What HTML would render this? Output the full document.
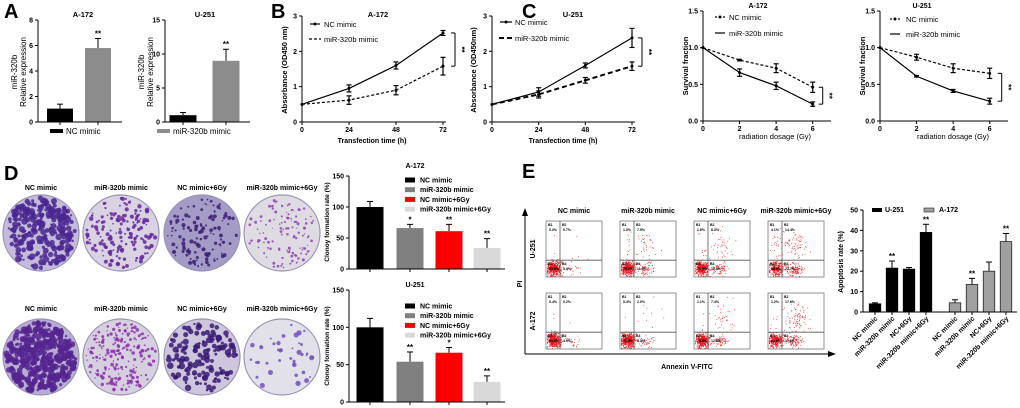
<!DOCTYPE html>
<html><head><meta charset="utf-8"><style>
html,body{margin:0;padding:0;background:#fff;}
svg{display:block;font-family:"Liberation Sans",Arial,sans-serif;}
</style></head><body>
<svg id="fig" width="1020" height="408" viewBox="0 0 1020 408" xmlns="http://www.w3.org/2000/svg"></svg>
<script>
// ---------- data ----------
const aCats = ['NC mimic', 'miR-320b mimic'];
const aA172Vals = [1.05, 5.8];
const aA172Errs = [0.35, 0.75];
const aU251Vals = [1.0, 9.0];
const aU251Errs = [0.4, 1.7];
const aTicksA172 = [0, 2, 4, 6, 8];
const aTicksU251 = [0, 5, 10, 15];

const bTimes = [0, 24, 48, 72];
const bTicks = [0, 1, 2, 3];
const bA172NC = [0.5, 0.95, 1.6, 2.52];
const bA172NCErr = [0, 0.1, 0.1, 0.07];
const bA172Mi = [0.5, 0.62, 0.9, 1.58];
const bA172MiErr = [0, 0.12, 0.13, 0.25];
const bU251NC = [0.5, 0.85, 1.6, 2.38];
const bU251NCErr = [0, 0.12, 0.07, 0.27];
const bU251Mi = [0.5, 0.78, 1.18, 1.58];
const bU251MiErr = [0, 0.1, 0.08, 0.12];

const cDoses = [0, 2, 4, 6];
const cTicks = [0, 0.5, 1.0, 1.5];
const cTickLabels = ['0.0', '0.5', '1.0', '1.5'];
const cXTicks = [0, 2, 4, 6];
const cA172NC = [1.0, 0.83, 0.72, 0.46];
const cA172NCErr = [0, 0.01, 0.06, 0.07];
const cA172Mi = [1.0, 0.66, 0.48, 0.23];
const cA172MiErr = [0, 0.05, 0.05, 0.03];
const cU251NC = [1.0, 0.87, 0.72, 0.65];
const cU251NCErr = [0, 0.04, 0.06, 0.07];
const cU251Mi = [1.0, 0.61, 0.41, 0.27];
const cU251MiErr = [0, 0.01, 0.02, 0.04];

const dCats = ['NC mimic', 'miR-320b mimic', 'NC mimic+6Gy', 'miR-320b mimic+6Gy'];
const dTicks = [0, 50, 100, 150];
const dA172Vals = [100, 66, 61, 34];
const dA172Errs = [9, 6, 11, 15];
const dA172Stars = ['', '*', '**', '**'];
const dU251Vals = [100, 54, 66, 27];
const dU251Errs = [12, 13, 7, 8];
const dU251Stars = ['', '**', '*', '**'];

const eCats = ['NC mimic', 'miR-320b mimic', 'NC+6Gy', 'miR-320b mimic+6Gy', 'NC mimic', 'miR-320b mimic', 'NC+6Gy', 'miR-320b mimic+6Gy'];
const eVals = [4, 21.5, 21, 39, 4.5, 13.5, 20, 34.5];
const eErrs = [0.5, 3.5, 0.8, 4, 1.5, 3, 4.5, 4];
const eStars = ['', '**', '', '**', '', '**', '', '**'];
const eTicks = [0, 10, 20, 30, 40, 50];

const flowCols = ['NC mimic', 'miR-320b mimic', 'NC mimic+6Gy', 'miR-320b mimic+6Gy'];
const flowU251 = [[0.3, 0.7, 95.6, 3.4], [1.9, 7.5, 79.0, 11.6], [1.8, 8.3, 78.9, 12.9], [4.1, 14.4, 58.8, 22.7]];
const flowA172 = [[0.4, 0.2, 94.5, 4.9], [0.4, 2.0, 89.3, 8.3], [1.1, 7.4, 78.8, 12.6], [1.2, 17.6, 63.6, 17.6]];

// ---------- helpers ----------
const NS = 'http://www.w3.org/2000/svg';
const svg = document.getElementById('fig');
function mk(tag, a, name, parent) {
  const e = document.createElementNS(NS, tag);
  for (const k in a) e.setAttribute(k, a[k]);
  
  
  (parent || svg).appendChild(e);
  return e;
}
function tx(x, y, s, size, name, o) {
  o = o || {};
  const a = {x: x, y: y, 'font-size': size, 'font-weight': o.w || 'bold', 'text-anchor': o.a || 'middle', fill: o.f || '#000'};
  if (o.r) a.transform = 'rotate(' + o.r + ' ' + x + ' ' + y + ')';
  const e = mk('text', a, name, o.p);
  e.textContent = s;
  return e;
}
function ln(x1, y1, x2, y2, name, sw, dash, col, p) {
  const a = {x1: x1, y1: y1, x2: x2, y2: y2, stroke: col || '#000', 'stroke-width': sw || 1};
  if (dash) a['stroke-dasharray'] = dash;
  return mk('line', a, name, p);
}
function yAxis(x, y0, y1, max, ticks, labels, name) {
  ln(x, y0, x, y1, name + '-y-axis', 1);
  ticks.forEach((t, i) => {
    const y = y0 - t / max * (y0 - y1);
    ln(x - 3, y, x, y, name + '-y-tick', 1);
    tx(x - 5, y + 2.5, labels ? labels[i] : String(t), 7, name + '-y-tick-label', {a: 'end'});
  });
}
function errBar(x, yTop, yMid, name, cap) {
  cap = cap || 3;
  ln(x, yMid, x, yTop, name + '-error', 1);
  ln(x - cap, yTop, x + cap, yTop, name + '-error-cap', 1);
}
function bars(cfg) {
  const s = v => cfg.y0 - v / cfg.max * (cfg.y0 - cfg.y1);
  cfg.vals.forEach((v, i) => {
    const cx = cfg.centers[i], w = cfg.width;
    errBar(cx, s(v + cfg.errs[i]), s(v), cfg.name);
    mk('rect', {x: cx - w / 2, y: s(v), width: w, height: cfg.y0 - s(v), fill: cfg.fills[i], stroke: cfg.strokes ? cfg.strokes[i] : 'none', 'stroke-width': 0.8}, cfg.name + '-bar');
    if (cfg.stars && cfg.stars[i]) tx(cx, s(v + cfg.errs[i]) - 2, cfg.stars[i], 8, cfg.name + '-significance');
    ln(cx, cfg.y0, cx, cfg.y0 + 3, cfg.name + '-x-tick', 1);
  });
  ln(cfg.x, cfg.y0, cfg.xEnd, cfg.y0, cfg.name + '-x-axis', 1);
  yAxis(cfg.x, cfg.y0, cfg.y1, cfg.max, cfg.ticks, cfg.tickLabels, cfg.name);
}
function lines(cfg) {
  const sx = v => cfg.x0 + (v - cfg.xs[0]) / cfg.xMax * (cfg.x1 - cfg.x0);
  const sy = v => cfg.y0 - v / cfg.max * (cfg.y0 - cfg.y1);
  cfg.series.forEach(se => {
    const pts = cfg.xs.map((x, i) => sx(x) + ',' + sy(se.vals[i])).join(' ');
    const a = {points: pts, fill: 'none', stroke: '#000', 'stroke-width': se.sw || 1};
    if (se.dash) a['stroke-dasharray'] = se.dash;
    mk('polyline', a, cfg.name + '-' + se.key + '-line');
    cfg.xs.forEach((x, i) => {
      const e = se.errs[i];
      if (e > 0) {
        ln(sx(x), sy(se.vals[i] - e), sx(x), sy(se.vals[i] + e), cfg.name + '-error', 1.2);
        ln(sx(x) - 2.5, sy(se.vals[i] + e), sx(x) + 2.5, sy(se.vals[i] + e), cfg.name + '-error-cap', 1.2);
        ln(sx(x) - 2.5, sy(se.vals[i] - e), sx(x) + 2.5, sy(se.vals[i] - e), cfg.name + '-error-cap', 1.2);
      }
      mk('circle', {cx: sx(x), cy: sy(se.vals[i]), r: 1.5, fill: '#000'}, cfg.name + '-point');
    });
  });
  ln(cfg.x0, cfg.y0, cfg.xAxisEnd, cfg.y0, cfg.name + '-x-axis', 1);
  cfg.xTicks.forEach(t => {
    ln(sx(t), cfg.y0, sx(t), cfg.y0 + 3, cfg.name + '-x-tick', 1);
    tx(sx(t), cfg.y0 + 10, String(t), 7, cfg.name + '-x-tick-label');
  });
  yAxis(cfg.x0, cfg.y0, cfg.y1, cfg.max, cfg.ticks, cfg.tickLabels, cfg.name);
  const li = cfg.xs.length - 1;
  const ya = sy(cfg.series[0].vals[li]), yb = sy(cfg.series[1].vals[li]);
  const bx = sx(cfg.xs[li]) + cfg.bOff;
  ln(bx - 4, ya, bx, ya, cfg.name + '-bracket', 1);
  ln(bx, ya, bx, yb, cfg.name + '-bracket', 1);
  ln(bx - 4, yb, bx, yb, cfg.name + '-bracket', 1);
  tx(bx + 4, (ya + yb) / 2, '**', 8, cfg.name + '-significance', {r: 90});
}
let seed = 12345;
function rnd() { seed |= 0; seed = seed + 0x6D2B79F5 | 0; let t = Math.imul(seed ^ seed >>> 15, 1 | seed); t = t + Math.imul(t ^ t >>> 7, 61 | t) ^ t; return ((t ^ t >>> 14) >>> 0) / 4294967296; }
function gauss() { return (rnd() + rnd() + rnd() - 1.5) / 0.5; }

// ---------- panel letters ----------
tx(4, 18, 'A', 20, 'panel-label-a', {a: 'start'});
tx(271, 18, 'B', 20, 'panel-label-b', {a: 'start'});
tx(522, 18, 'C', 20, 'panel-label-c', {a: 'start'});
tx(4, 180, 'D', 20, 'panel-label-d', {a: 'start'});
tx(522, 178, 'E', 20, 'panel-label-e', {a: 'start'});

// ---------- Panel A ----------
tx(83, 17, 'A-172', 7.5, 'a-a172-title');
bars({name: 'a-a172', x: 38, xEnd: 122, y0: 122, y1: 20, max: 8, ticks: aTicksA172, centers: [60, 98], width: 26, vals: aA172Vals, errs: aA172Errs, fills: ['#000', '#8c8c8c'], stars: ['', '**']});
tx(17, 72, 'miR-320b', 8, 'a-a172-y-title', {r: -90, w: 'normal'});
tx(26, 72, 'Relative expression', 8, 'a-a172-y-title', {r: -90, w: 'normal'});
tx(205, 17, 'U-251', 7.5, 'a-u251-title');
bars({name: 'a-u251', x: 165, xEnd: 250, y0: 122, y1: 20, max: 15, ticks: aTicksU251, centers: [183, 226], width: 27, vals: aU251Vals, errs: aU251Errs, fills: ['#000', '#8c8c8c'], stars: ['', '**']});
tx(144, 72, 'miR-320b', 8, 'a-u251-y-title', {r: -90, w: 'normal'});
tx(153, 72, 'Relative expression', 8, 'a-u251-y-title', {r: -90, w: 'normal'});
mk('rect', {x: 50, y: 129, width: 13, height: 4, fill: '#000'}, 'a-legend-swatch-nc');
tx(66, 134, aCats[0], 8, 'a-legend-label-nc', {a: 'start', w: 'normal'});
mk('rect', {x: 157, y: 129, width: 13, height: 4, fill: '#8c8c8c'}, 'a-legend-swatch-mir');
tx(173, 134, aCats[1], 8, 'a-legend-label-mir', {a: 'start', w: 'normal'});

// ---------- Panel B ----------
tx(378, 17, 'A-172', 7.5, 'b-a172-title');
lines({name: 'b-a172', xs: bTimes, xMax: 72, x0: 302, x1: 443, xAxisEnd: 446, y0: 122, y1: 16, max: 3, ticks: bTicks, xTicks: bTimes, bOff: 12,
  series: [{key: 'nc', vals: bA172NC, errs: bA172NCErr, sw: 1.2}, {key: 'mir', vals: bA172Mi, errs: bA172MiErr, dash: '3,2', sw: 1.2}]});
tx(372, 143, 'Transfection time (h)', 7, 'b-a172-x-title');
tx(287, 70, 'Absorbance (OD450 nm)', 7.5, 'b-a172-y-title', {r: -90});
ln(310, 24, 320, 24, 'b-a172-legend-line-nc', 1.2); mk('circle', {cx: 315, cy: 24, r: 1.5, fill: '#000'}, 'b-a172-legend-marker');
tx(324, 27, 'NC mimic', 7.5, 'b-a172-legend-label-nc', {a: 'start', w: 'normal'});
ln(309, 39, 321, 39, 'b-a172-legend-line-mir', 1.2, '3,2');
tx(324, 42, 'miR-320b mimic', 7.5, 'b-a172-legend-label-mir', {a: 'start', w: 'normal'});

tx(573, 17, 'U-251', 7.5, 'b-u251-title');
lines({name: 'b-u251', xs: bTimes, xMax: 72, x0: 492, x1: 632, xAxisEnd: 635, y0: 122, y1: 16, max: 3, ticks: bTicks, xTicks: bTimes, bOff: 10,
  series: [{key: 'nc', vals: bU251NC, errs: bU251NCErr, sw: 1.2}, {key: 'mir', vals: bU251Mi, errs: bU251MiErr, dash: '5,3', sw: 2}]});
tx(563, 143, 'Transfection time (h)', 7, 'b-u251-x-title');
tx(476, 70, 'Absorbance (OD450nm)', 7.5, 'b-u251-y-title', {r: -90});
ln(500, 22, 512, 22, 'b-u251-legend-line-nc', 1.2); mk('circle', {cx: 506, cy: 22, r: 1.5, fill: '#000'}, 'b-u251-legend-marker');
tx(515, 25, 'NC mimic', 7.5, 'b-u251-legend-label-nc', {a: 'start', w: 'normal'});
ln(499, 38, 513, 38, 'b-u251-legend-line-mir', 2, '5,3');
tx(515, 41, 'miR-320b mimic', 7.5, 'b-u251-legend-label-mir', {a: 'start', w: 'normal'});

// ---------- Panel C ----------
tx(758, 8, 'A-172', 7, 'c-a172-title');
lines({name: 'c-a172', xs: cDoses, xMax: 7, x0: 703, x1: 831, xAxisEnd: 831, y0: 121, y1: 11, max: 1.5, ticks: cTicks, tickLabels: cTickLabels, xTicks: cXTicks, bOff: 10,
  series: [{key: 'nc', vals: cA172NC, errs: cA172NCErr, dash: '3,2', sw: 1.2}, {key: 'mir', vals: cA172Mi, errs: cA172MiErr, sw: 1.2}]});
tx(775, 139, 'radiation dosage (Gy)', 7.5, 'c-a172-x-title', {w: 'normal'});
tx(688, 66, 'Survival fraction', 7.5, 'c-a172-y-title', {r: -90});
ln(715, 17, 725, 17, 'c-a172-legend-line-nc', 1.2, '2,2'); mk('circle', {cx: 720, cy: 17, r: 1.5, fill: '#000'}, 'c-a172-legend-marker');
tx(729, 20, 'NC mimic', 7.5, 'c-a172-legend-label-nc', {a: 'start', w: 'normal'});
ln(715, 33, 725, 33, 'c-a172-legend-line-mir', 1.2);
tx(729, 36, 'miR-320b mimic', 7.5, 'c-a172-legend-label-mir', {a: 'start', w: 'normal'});

tx(922, 8, 'U-251', 7, 'c-u251-title');
lines({name: 'c-u251', xs: cDoses, xMax: 7, x0: 880, x1: 1008, xAxisEnd: 1008, y0: 121, y1: 11, max: 1.5, ticks: cTicks, tickLabels: cTickLabels, xTicks: cXTicks, bOff: 12,
  series: [{key: 'nc', vals: cU251NC, errs: cU251NCErr, dash: '3,2', sw: 1.2}, {key: 'mir', vals: cU251Mi, errs: cU251MiErr, sw: 1.2}]});
tx(953, 139, 'radiation dosage (Gy)', 7.5, 'c-u251-x-title', {w: 'normal'});
tx(865, 66, 'Survival fraction', 7.5, 'c-u251-y-title', {r: -90});
ln(890, 19, 900, 19, 'c-u251-legend-line-nc', 1.2, '2,2'); mk('circle', {cx: 895, cy: 19, r: 1.5, fill: '#000'}, 'c-u251-legend-marker');
tx(906, 22, 'NC mimic', 7.5, 'c-u251-legend-label-nc', {a: 'start', w: 'normal'});
ln(890, 34, 900, 34, 'c-u251-legend-line-mir', 1.2);
tx(906, 37, 'miR-320b mimic', 7.5, 'c-u251-legend-label-mir', {a: 'start', w: 'normal'});

// ---------- Panel D dishes ----------
const dishStyles = [
  [{bg: '#c3bbd9', dot: '#4a2790', n: 260, r: 2.2}, {bg: '#d8d2e2', dot: '#66279a', n: 160, r: 1.5}, {bg: '#a49bc6', dot: '#3b1f72', n: 120, r: 1.4}, {bg: '#dedbe3', dot: '#9040b0', n: 120, r: 1.0}],
  [{bg: '#b8acd4', dot: '#55258f', n: 420, r: 2.2}, {bg: '#d6cfe0', dot: '#8a30a8', n: 220, r: 1.2}, {bg: '#cdc6dc', dot: '#3a1a74', n: 140, r: 2.2}, {bg: '#e2e0e8', dot: '#7050c0', n: 40, r: 1.8}]
];
const dishX = [41, 121, 202, 282], dishY = [233, 357];
const dishLabelY = [190, 311];
for (let r = 0; r < 2; r++) {
  for (let c = 0; c < 4; c++) {
    const st = dishStyles[r][c];
    tx(dishX[c], dishLabelY[r], dCats[c], 7, 'd-dish-label', {});
    const g = mk('g', {}, 'd-dish-' + (r ? 'u251' : 'a172') + '-' + (c + 1));
    mk('circle', {cx: dishX[c], cy: dishY[r], r: 38, fill: st.bg, stroke: '#9a92b0', 'stroke-width': 1.2}, 'd-dish-plate', g);
    for (let k = 0; k < st.n; k++) {
      const ang = rnd() * Math.PI * 2, rad = Math.sqrt(rnd()) * 35;
      mk('circle', {cx: dishX[c] + Math.cos(ang) * rad, cy: dishY[r] + Math.sin(ang) * rad, r: st.r * (0.5 + rnd()), fill: st.dot, opacity: 0.85}, 'd-colony', g);
    }
  }
}

// ---------- Panel D bars ----------
const dFills = ['#000', '#808080', '#ff0000', '#d9d9d9'];
tx(415, 168, 'A-172', 7, 'd-a172-title');
bars({name: 'd-a172', x: 349, xEnd: 505, y0: 269, y1: 176, max: 150, ticks: dTicks, centers: [370, 410, 449, 487], width: 27, vals: dA172Vals, errs: dA172Errs, fills: dFills, stars: dA172Stars});
tx(329, 222, 'Clonoy formation rate (%)', 6.5, 'd-a172-y-title', {r: -90});
tx(415, 287, 'U-251', 7, 'd-u251-title');
bars({name: 'd-u251', x: 349, xEnd: 505, y0: 402, y1: 290, max: 150, ticks: dTicks, centers: [370, 410, 449, 487], width: 27, vals: dU251Vals, errs: dU251Errs, fills: dFills, stars: dU251Stars});
tx(329, 346, 'Clonoy formation rate (%)', 6.5, 'd-u251-y-title', {r: -90});
[181, 307].forEach((ly, gi) => {
  dCats.forEach((c, i) => {
    mk('rect', {x: 405, y: ly + i * 9.7 - 3.5, width: 10, height: 5, fill: dFills[i]}, 'd-legend-swatch');
    tx(420, ly + i * 9.7 + 1.5, c, 7, 'd-legend-label', {a: 'start'});
  });
});

// ---------- Panel E flow plots ----------
const fx = [546, 620, 694, 768], fy = [221, 293], fw = 56, fh = 56;
flowCols.forEach((c, i) => tx(fx[i] + fw / 2, 213, c, 7, 'e-flow-column-label'));
tx(535, 249, 'U-251', 7, 'e-flow-row-label', {r: -90});
tx(535, 321, 'A-172', 7, 'e-flow-row-label', {r: -90});
[flowU251, flowA172].forEach((rowData, r) => {
  rowData.forEach((q, c) => {
    const x = fx[c], y = fy[r];
    const g = mk('g', {}, 'e-flow-plot');
    mk('rect', {x: x, y: y, width: fw, height: fh, fill: '#fff', stroke: '#777', 'stroke-width': 0.8}, 'e-flow-frame', g);
    const gx = x + fw * 0.25, gy = y + fh * 0.7;
    const N = 500;
    const cl = [[x + 8, y + 47, 3.5, 3.5, q[2]], [x + 26, y + 48, 4, 3, q[3]], [x + 28, y + 25, 6, 8, q[1]], [x + 8, y + 25, 3, 8, q[0]]];
    cl.forEach(k => {
      const n = Math.round(N * k[4] / 100);
      for (let j = 0; j < n; j++) {
        const px = Math.min(x + fw - 1, Math.max(x + 1, k[0] + gauss() * k[2]));
        const py = Math.min(y + fh - 1, Math.max(y + 1, k[1] + gauss() * k[3]));
        mk('rect', {x: px, y: py, width: 0.9, height: 0.9, fill: '#e8141c', opacity: 0.8}, 'e-flow-event', g);
      }
    });
    ln(gx, y, gx, y + fh, 'e-flow-gate', 0.8, null, '#555', g);
    ln(x, gy, x + fw, gy, 'e-flow-gate', 0.8, null, '#555', g);
    tx(x + 2, y + 5, 'B1', 3.5, 'e-quadrant-label', {a: 'start', p: g});
    tx(x + 3, y + 10, q[0].toFixed(1) + '%', 3.5, 'e-quadrant-percent', {a: 'start', p: g});
    tx(gx + 2, y + 5, 'B2', 3.5, 'e-quadrant-label', {a: 'start', p: g});
    tx(gx + 3, y + 10, q[1].toFixed(1) + '%', 3.5, 'e-quadrant-percent', {a: 'start', p: g});
    tx(x + 2, gy + 5, 'B3', 3.5, 'e-quadrant-label', {a: 'start', p: g});
    tx(x + 3, gy + 10, q[2].toFixed(1) + '%', 3.5, 'e-quadrant-percent', {a: 'start', p: g});
    tx(gx + 2, gy + 5, 'B4', 3.5, 'e-quadrant-label', {a: 'start', p: g});
    tx(gx + 3, gy + 10, q[3].toFixed(1) + '%', 3.5, 'e-quadrant-percent', {a: 'start', p: g});
  });
});
ln(525, 354, 525, 214, 'e-pi-axis', 1);
mk('polygon', {points: '522,216 525,208 528,216', fill: '#000'}, 'e-pi-arrow');
ln(525, 354, 830, 354, 'e-annexin-axis', 1);
mk('polygon', {points: '828,351 836,354 828,357', fill: '#000'}, 'e-annexin-arrow');
tx(522, 284, 'PI', 7, 'e-pi-label', {r: -90});
tx(687, 369, 'Annexin V-FITC', 7, 'e-annexin-label');

// ---------- Panel E bars ----------
bars({name: 'e-apoptosis', x: 863, xEnd: 1017, y0: 312, y1: 210, max: 50, ticks: eTicks, centers: [875, 892, 909, 926, 955, 972, 989, 1006], width: 11.5, vals: eVals, errs: eErrs,
  fills: ['#000', '#000', '#000', '#000', '#a0a0a0', '#a0a0a0', '#a0a0a0', '#a0a0a0'], strokes: ['#000', '#000', '#000', '#000', '#222', '#222', '#222', '#222'], stars: eStars});
[875, 892, 909, 926, 955, 972, 989, 1006].forEach((cx, i) => tx(cx + 3, 319, eCats[i], 7, 'e-x-tick-label', {a: 'end', r: -45}));
tx(843, 262, 'Apoptosis rate (%)', 7, 'e-y-title', {r: -90});
mk('rect', {x: 872, y: 208, width: 10, height: 4, fill: '#000'}, 'e-legend-swatch-u251');
tx(885, 212, 'U-251', 7, 'e-legend-label-u251', {a: 'start'});
mk('rect', {x: 924, y: 208, width: 10, height: 4, fill: '#a0a0a0', stroke: '#222', 'stroke-width': 0.6}, 'e-legend-swatch-a172');
tx(939, 212, 'A-172', 7, 'e-legend-label-a172', {a: 'start'});
</script>
</body></html>
